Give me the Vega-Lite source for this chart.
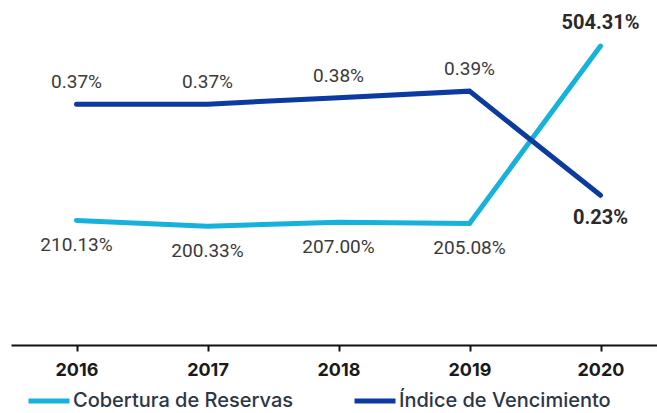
{
  "$schema": "https://vega.github.io/schema/vega-lite/v6.json",
  "width": 655,
  "height": 345,
  "autosize": {"type": "none"},
  "padding": {"left": 11, "top": 0, "right": 0, "bottom": 68},
  "background": "white",
  "config": {
    "view": {"stroke": null},
    "font": "Roboto",
    "legend": {
      "orient": "none",
      "legendX": 15,
      "legendY": 378,
      "direction": "horizontal",
      "symbolType": "stroke",
      "symbolSize": 1681,
      "symbolStrokeWidth": 5,
      "labelFont": "Inter",
      "labelFontSize": 20,
      "labelFontWeight": 500,
      "labelColor": "#2b3646",
      "labelOffset": 1,
      "columnPadding": 50,
      "labelLimit": 400,
      "title": null
    }
  },
  "data": {
    "values": [
      {"year": "2016", "cobertura": 210.13, "indice": 0.37},
      {"year": "2017", "cobertura": 200.33, "indice": 0.37},
      {"year": "2018", "cobertura": 207.00, "indice": 0.38},
      {"year": "2019", "cobertura": 205.08, "indice": 0.39},
      {"year": "2020", "cobertura": 504.31, "indice": 0.23}
    ]
  },
  "transform": [
    {"calculate": "format(datum.cobertura, '.2f') + '%'", "as": "cob_label"},
    {"calculate": "format(datum.indice, '.2f') + '%'", "as": "ind_label"}
  ],
  "encoding": {
    "x": {
      "field": "year",
      "type": "ordinal",
      "scale": {"paddingInner": 0, "paddingOuter": 0},
      "axis": {
        "title": null,
        "bandPosition": 0,
        "domainColor": "#111111",
        "domainWidth": 2,
        "tickColor": "#111111",
        "tickWidth": 2,
        "tickSize": 6,
        "labelAngle": 0,
        "labelFont": "Inter",
        "labelFontSize": 18,
        "labelFontWeight": "bold",
        "labelColor": "#1a1a1a",
        "labelPadding": 10,
        "labelAlign": "center",
        "labelBaseline": "top",
        "grid": false
      }
    }
  },
  "layer": [
    {
      "encoding": {
        "y": {
          "field": "cobertura",
          "type": "quantitative",
          "scale": {"domain": [0, 582], "nice": false, "zero": true},
          "axis": null
        }
      },
      "layer": [
        {
          "mark": {"type": "line", "strokeWidth": 5, "strokeCap": "round", "strokeJoin": "miter"},
          "encoding": {
            "color": {
              "datum": "Cobertura de Reservas",
              "type": "nominal",
              "scale": {"domain": ["Cobertura de Reservas", "Índice de Vencimiento"], "range": ["#17B2DB", "#0B3AA0"]}
            }
          }
        },
        {
          "transform": [{"filter": "datum.year != '2020'"}],
          "mark": {"type": "text", "dy": 25, "fontSize": 19, "color": "#3a3a3a", "baseline": "middle"},
          "encoding": {"text": {"field": "cob_label"}}
        },
        {
          "transform": [{"filter": "datum.year == '2020'"}],
          "mark": {"type": "text", "dy": -23, "fontSize": 20, "fontWeight": "bold", "color": "#2a2a2a", "baseline": "middle"},
          "encoding": {"text": {"field": "cob_label"}}
        }
      ]
    },
    {
      "encoding": {
        "y": {
          "field": "indice",
          "type": "quantitative",
          "scale": {"domain": [0, 0.53], "nice": false, "zero": true},
          "axis": null
        }
      },
      "layer": [
        {
          "mark": {"type": "line", "strokeWidth": 5, "strokeCap": "round", "strokeJoin": "miter"},
          "encoding": {
            "color": {
              "datum": "Índice de Vencimiento",
              "type": "nominal"
            }
          }
        },
        {
          "transform": [{"filter": "datum.year != '2020'"}],
          "mark": {"type": "text", "dy": -22, "fontSize": 19, "color": "#3a3a3a", "baseline": "middle"},
          "encoding": {"text": {"field": "ind_label"}}
        },
        {
          "transform": [{"filter": "datum.year == '2020'"}],
          "mark": {"type": "text", "dy": 23, "fontSize": 20, "fontWeight": "bold", "color": "#2a2a2a", "baseline": "middle"},
          "encoding": {"text": {"field": "ind_label"}}
        }
      ],
      "resolve": {"scale": {"y": "shared"}}
    }
  ],
  "resolve": {"scale": {"y": "independent", "color": "shared"}}
}
